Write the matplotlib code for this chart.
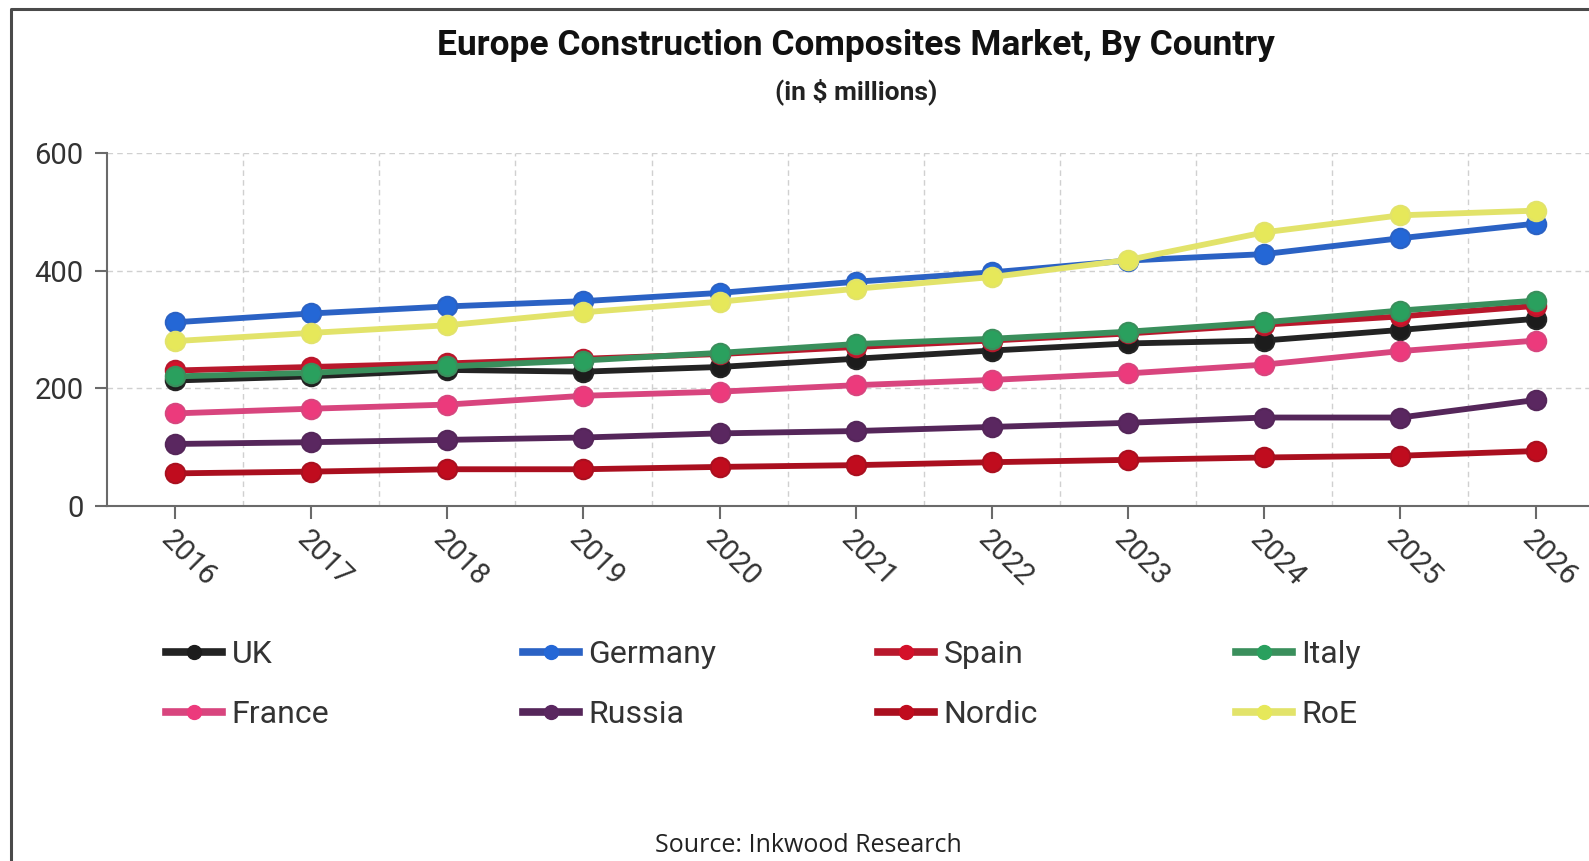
import matplotlib
matplotlib.use("Agg")
import matplotlib.pyplot as plt
from matplotlib.lines import Line2D
from matplotlib.transforms import ScaledTranslation

years = [2016, 2017, 2018, 2019, 2020, 2021, 2022, 2023, 2024, 2025, 2026]

uk      = [213, 220, 231, 228, 236, 250, 264, 276, 281, 299, 318]
germany = [312, 327, 339, 348, 362, 381, 397, 417, 428, 455, 480]
spain   = [230, 236, 242, 250, 258, 270, 281, 293, 308, 322, 340]
italy   = [220, 226, 237, 247, 260, 275, 284, 296, 312, 332, 349]
france  = [157, 165, 172, 187, 194, 205, 214, 225, 240, 263, 281]
russia  = [105, 108, 112, 116, 123, 127, 134, 141, 150, 150, 180]
nordic  = [55, 58, 62, 62, 66, 69, 74, 78, 82, 85, 93]
roe     = [280, 294, 307, 329, 347, 369, 389, 418, 465, 494, 502]

series_names = ["UK", "Germany", "Spain", "Italy", "France", "Russia", "Nordic", "RoE"]
series_values = [uk, germany, spain, italy, france, russia, nordic, roe]
line_colors = ["#232323", "#2b62c4", "#b8182c", "#3a8f5c", "#d8457e", "#55265a", "#aa0f1f", "#e2e36a"]
marker_colors = ["#1c1c1c", "#2467d6", "#d4102a", "#2aa05e", "#ec3a7c", "#5a2760", "#c00c1e", "#e6e85a"]

y_ticks = [0, 200, 400, 600]

title = "Europe Construction Composites Market, By Country"
subtitle = "(in $ millions)"
source = "Source: Inkwood Research"

W, H = 1589, 861
fig = plt.figure(figsize=(W / 100, H / 100), dpi=100)
fig.patch.set_facecolor("white")

sans = ["Roboto", "DejaVu Sans"]

# plot area: x from 2015.5 to 2026.5, the right edge runs past the canvas
ax_left, ax_right = 107, 1604.5
ax_top, ax_bottom = 153, 505.7
ax = fig.add_axes([ax_left / W, 1 - ax_bottom / H, (ax_right - ax_left) / W, (ax_bottom - ax_top) / H])
ax.set_xlim(2015.5, 2026.5)
ax.set_ylim(0, 600)

for name, vals, lc, mc in zip(series_names, series_values, line_colors, marker_colors):
    ax.plot(years, vals, color=lc, lw=4.2, marker="o", markersize=14,
            markerfacecolor=mc, markeredgecolor=lc, markeredgewidth=1.5,
            solid_capstyle="round", solid_joinstyle="round", label=name, zorder=3)

# grid: horizontal at value ticks, vertical between categories
ax.set_yticks(y_ticks)
ax.set_xticks(years)
for yv in y_ticks[1:]:
    ax.axhline(yv, color="#d0d0d0", lw=1, ls=(0, (4, 3)), zorder=1)
for xv in [y + 0.5 for y in years[:-1]]:
    ax.axvline(xv, color="#d0d0d0", lw=1, ls=(0, (4, 3)), zorder=1)

for s in ["top", "right"]:
    ax.spines[s].set_visible(False)
for s in ["left", "bottom"]:
    ax.spines[s].set_color("#6a6a6a")
    ax.spines[s].set_linewidth(1.5)

ax.tick_params(axis="y", which="major", length=9, width=1.5, color="#6a6a6a",
               labelsize=21, labelcolor="#333333", pad=8)
ax.tick_params(axis="x", which="major", length=9, width=1.5, color="#6a6a6a",
               labelsize=21, labelcolor="#333333", pad=12)
for lab in ax.get_yticklabels():
    lab.set_fontfamily(sans)
for lab in ax.get_xticklabels():
    lab.set_fontfamily(sans)
    lab.set_rotation(-45)
    lab.set_rotation_mode("anchor")
    lab.set_ha("left")
    lab.set_va("center")
    lab.set_transform(lab.get_transform() + ScaledTranslation(-10 / 100, 0, fig.dpi_scale_trans))

# titles
fig.text(856 / W, 1 - 46 / H, title, ha="center", va="center", fontsize=25.5,
         fontweight="bold", family=sans, color="#111111")
fig.text(856 / W, 1 - 92 / H, subtitle, ha="center", va="center", fontsize=19,
         fontweight="bold", family=sans, color="#222222")

# legend laid out as four columns of two entries
handles = [Line2D([0], [0], color=lc, lw=5.5, marker="o", markersize=10,
                  markerfacecolor=mc, markeredgecolor=mc)
           for lc, mc in zip(line_colors, marker_colors)]
col_x = [166, 523, 878, 1236]
for c in range(4):
    leg = fig.legend(handles=[handles[c], handles[c + 4]],
                     labels=[series_names[c], series_names[c + 4]],
                     loc="upper left", bbox_to_anchor=(col_x[c] / W, 1 - 640 / H),
                     frameon=False, handlelength=1.75, handletextpad=0.3,
                     labelspacing=0.98, borderaxespad=0, borderpad=0,
                     prop={"family": sans, "size": 23})
    for t in leg.get_texts():
        t.set_color("#333333")

fig.text(808 / W, 1 - 845 / H, source, ha="center", va="center", fontsize=18,
         family=["Open Sans", "DejaVu Sans"], color="#222222")

# frame along the left and top edges
fig.add_artist(Line2D([11 / W, 11 / W, 1.0], [0.0, 1 - 9 / H, 1 - 9 / H],
                      transform=fig.transFigure, color="#4a4a4a", lw=2.2))

fig.savefig("out.png", dpi=100, facecolor="white")
